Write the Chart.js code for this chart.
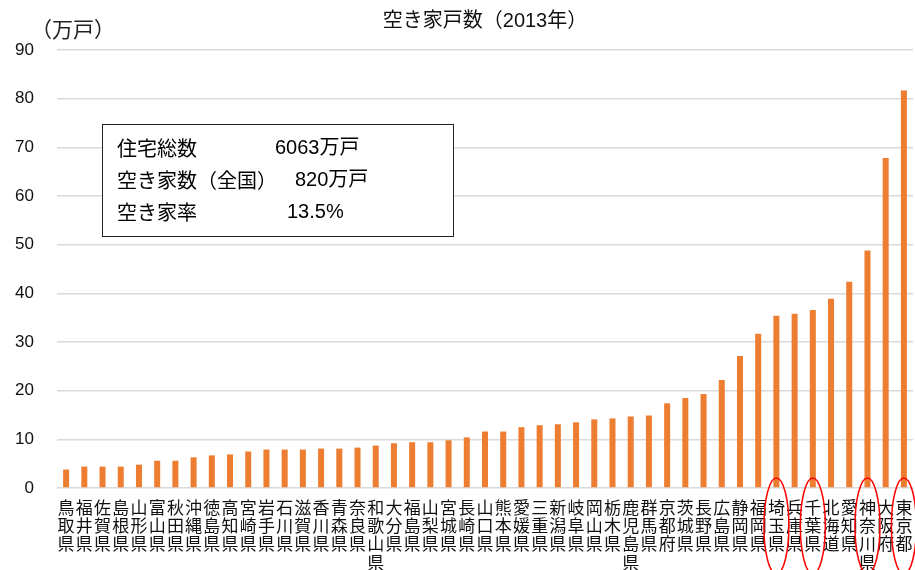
<!DOCTYPE html>
<html lang="ja">
<head>
<meta charset="utf-8">
<title>空き家戸数（2013年）</title>
<script src="https://cdn.jsdelivr.net/npm/chart.js@4.4.1/dist/chart.umd.min.js"></script>
<style>
  html, body { margin: 0; padding: 0; background: #fff; }
  #wrap { width: 915px; height: 570px; position: relative; }
</style>
</head>
<body>
<div id="wrap"><canvas id="chart"></canvas></div>
<script>
// ── データ ──────────────────────────────────────────
const prefectures = [
    '鳥取県', '福井県', '佐賀県', '島根県', '山形県', '富山県', '秋田県', '沖縄県',
    '徳島県', '高知県', '宮崎県', '岩手県', '石川県', '滋賀県', '香川県', '青森県',
    '奈良県', '和歌山県', '大分県', '福島県', '山梨県', '宮城県', '長崎県', '山口県',
    '熊本県', '愛媛県', '三重県', '新潟県', '岐阜県', '岡山県', '栃木県', '鹿児島県',
    '群馬県', '京都府', '茨城県', '長野県', '広島県', '静岡県', '福岡県', '埼玉県',
    '兵庫県', '千葉県', '北海道', '愛知県', '神奈川県', '大阪府', '東京都'
];
// 空き家数(万戸)
const vacantHouses = [
    3.8, 4.4, 4.4, 4.4, 4.8, 5.6, 5.6, 6.3,
    6.7, 6.9, 7.5, 7.9, 7.9, 7.9, 8.1, 8.1,
    8.3, 8.7, 9.2, 9.4, 9.4, 9.8, 10.4, 11.6,
    11.6, 12.5, 12.9, 13.1, 13.5, 14.1, 14.3, 14.7,
    14.9, 17.4, 18.5, 19.3, 22.2, 27.1, 31.7, 35.4,
    35.8, 36.6, 38.9, 42.4, 48.8, 67.8, 81.7
];
const yMin = 0;
const yMax = 90;
const yStep = 10;
// 赤丸で囲まれた都県
const circled = ['埼玉県', '千葉県', '神奈川県', '東京都'];
const summaryLabels = ['住宅総数', '空き家数（全国）', '空き家率'];
const summaryValues = ['6063万戸', '820万戸', '13.5%'];

const FONT = "'Liberation Sans', 'Noto Sans CJK JP', sans-serif";
const JP_FONT = "'Noto Sans CJK JP', 'Liberation Sans', sans-serif";

// ── 注記(単位・集計ボックス・赤丸) ─────────────────────
const notesPlugin = {
    id: 'notes',
    afterDraw(chart) {
        const { ctx, scales: { x } } = chart;
        ctx.save();

        // 単位
        ctx.fillStyle = '#222';
        ctx.font = `21px ${JP_FONT}`;
        ctx.textBaseline = 'middle';
        ctx.textAlign = 'left';
        ctx.fillText('（万戸）', 31, 29);

        // 集計ボックス
        ctx.fillStyle = '#fff';
        ctx.fillRect(102, 124, 351, 112);
        ctx.strokeStyle = '#222';
        ctx.lineWidth = 1;
        ctx.strokeRect(102.5, 124.5, 351, 112);

        const valueX = [275, 295, 287];
        ctx.fillStyle = '#000';
        summaryLabels.forEach((lbl, i) => {
            const y = 148 + i * 32;
            ctx.font = `20px ${JP_FONT}`;
            ctx.fillText(lbl, 117, y);
            ctx.font = `20px ${FONT}`;
            ctx.fillText(summaryValues[i], valueX[i], y);
        });

        // 赤丸
        ctx.strokeStyle = '#ff0000';
        ctx.lineWidth = 1.5;
        circled.forEach(name => {
            const idx = prefectures.indexOf(name);
            if (idx < 0) return;
            const cx = x.getPixelForValue(idx);
            ctx.beginPath();
            ctx.ellipse(cx, 526, 12.5, 48, 0, 0, Math.PI * 2);
            ctx.stroke();
        });

        ctx.restore();
    }
};

new Chart(document.getElementById('chart'), {
    type: 'bar',
    data: {
        labels: prefectures.map(p => p.split('')),
        datasets: [{
            label: '空き家数',
            data: vacantHouses,
            backgroundColor: '#ED7D31',
            borderWidth: 0,
            barPercentage: 0.33,
            categoryPercentage: 1.0,
        }],
    },
    options: {
        responsive: true,
        maintainAspectRatio: false,
        animation: false,
        devicePixelRatio: 1,
        layout: { padding: { left: 0, right: 2, top: 0, bottom: 0 } },
        plugins: {
            legend: { display: false },
            tooltip: { enabled: false },
            title: {
                display: true,
                text: '空き家戸数（2013年）',
                fullSize: false,
                color: '#111',
                font: { family: FONT, size: 20, weight: 'normal' },
                padding: { top: 9, bottom: 17 },
            },
        },
        scales: {
            x: {
                grid: { display: false, drawTicks: false },
                border: { display: false },
                ticks: {
                    autoSkip: false,
                    maxRotation: 0,
                    minRotation: 0,
                    padding: 10,
                    color: '#111',
                    font: { family: JP_FONT, size: 17, lineHeight: 1.08 },
                },
                afterFit: s => {
                    s.height = 82;
                    s.paddingLeft = 0;
                    s.paddingRight = 0;
                },
            },
            y: {
                min: yMin,
                max: yMax,
                grid: { color: '#d9d9d9', lineWidth: 1.5, drawTicks: false },
                border: { display: false },
                ticks: {
                    stepSize: yStep,
                    padding: 23,
                    color: '#111',
                    font: { family: FONT, size: 17 },
                },
                afterFit: s => { s.width = 57; },
            },
        },
    },
    plugins: [notesPlugin],
});
</script>
</body>
</html>
